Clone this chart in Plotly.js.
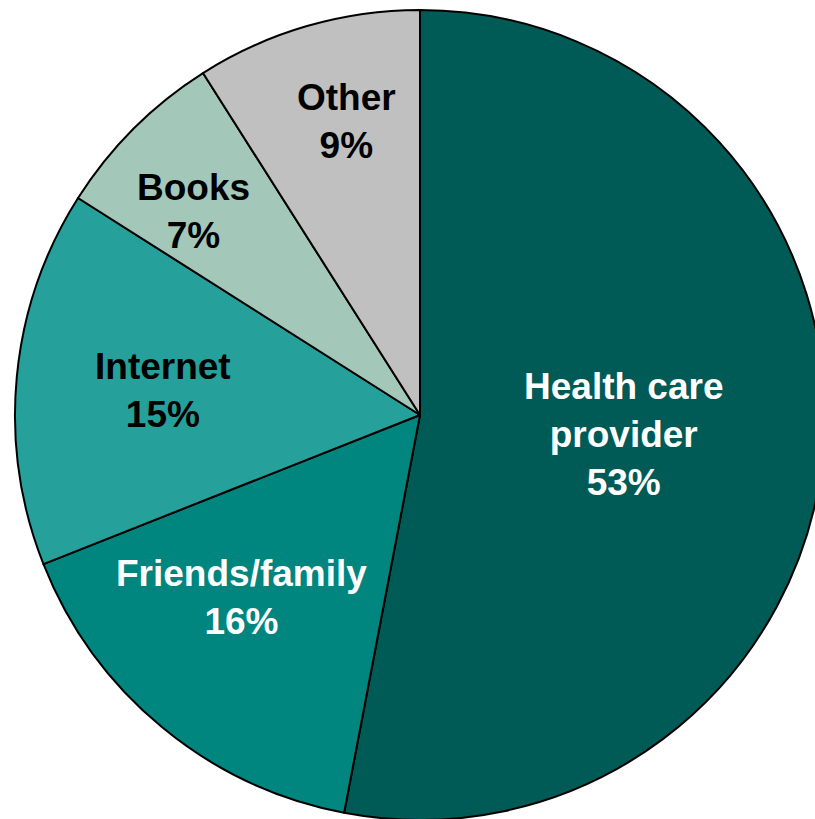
<!DOCTYPE html>
<html>
<head>
<meta charset="utf-8">
<script src="https://cdn.plot.ly/plotly-3.0.1.min.js"></script>
<style>
html, body { margin: 0; padding: 0; overflow: hidden; background: #ffffff; }
#chart { width: 840px; height: 830px; }
</style>
</head>
<body>
<div id="chart"></div>
<script>
const categories = ["Health care<br>provider", "Friends/family", "Internet", "Books", "Other"];
const shares = [53, 16, 15, 7, 9];
const sliceColors = ["#005A55", "#00857F", "#26A09A", "#A3C8BA", "#C0C0C0"];
const labelColors = ["#ffffff", "#ffffff", "#000000", "#000000", "#000000"];
const labelRadius = [0.506, 0.63, 0.637, 0.752, 0.746];
const labelAngleShift = [0.2, 4.8, 0.1, -3, 2.2];

const total = shares.reduce((a, b) => a + b, 0);
let cum = 0;
const annotations = shares.map((v, i) => {
  const mid = (cum + v / 2) / total * 2 * Math.PI + labelAngleShift[i] * Math.PI / 180;
  cum += v;
  const r = 0.5 * labelRadius[i];
  const lines = (categories[i] + "<br>" + v + "%").split("<br>").map(s => "<b>" + s + "</b>");
  return {
    xref: "paper", yref: "paper",
    x: 0.5 + r * Math.sin(mid),
    y: 0.5 + r * Math.cos(mid),
    xanchor: "center", yanchor: "middle",
    text: lines.join("<br>"),
    showarrow: false,
    font: { family: "Liberation Sans, Arial, sans-serif", size: 37, color: labelColors[i] }
  };
});

Plotly.newPlot("chart", [{
  type: "pie",
  labels: categories,
  values: shares,
  sort: false,
  direction: "clockwise",
  rotation: 0,
  textinfo: "none",
  hoverinfo: "none",
  marker: { colors: sliceColors, line: { color: "#000000", width: 2 } },
  domain: { x: [0, 1], y: [0, 1] }
}], {
  width: 840, height: 830,
  margin: { l: 15, r: 15, t: 10, b: 10, pad: 0 },
  showlegend: false,
  paper_bgcolor: "#ffffff",
  annotations: annotations
}, { staticPlot: true, displayModeBar: false });
</script>
</body>
</html>
